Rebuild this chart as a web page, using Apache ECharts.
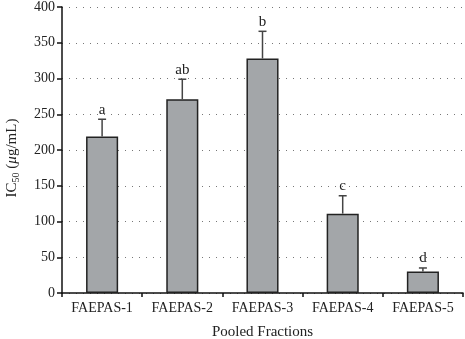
<!DOCTYPE html>
<html>
<head>
<meta charset="utf-8">
<script src="https://cdn.jsdelivr.net/npm/echarts@6/dist/echarts.min.js"></script>
<style>
  html, body { margin: 0; padding: 0; background: #fff; }
  #chart { width: 465px; height: 339px; }
</style>
</head>
<body>
<div id="chart"></div>
<script>
const categories = ['FAEPAS-1', 'FAEPAS-2', 'FAEPAS-3', 'FAEPAS-4', 'FAEPAS-5'];
const ic50 = [219, 271, 328, 111, 30];
const errUpper = [243, 299, 366, 136, 35];
const letters = ['a', 'ab', 'b', 'c', 'd'];

const font = 'Liberation Serif';
const chart = echarts.init(document.getElementById('chart'));

const errData = categories.map((c, i) => [i, ic50[i], errUpper[i], letters[i]]);

chart.setOption({
  animation: false,
  grid: { left: 62, right: 2, top: 7, bottom: 46, outerBoundsMode: 'none' },
  xAxis: {
    type: 'category',
    data: categories,
    name: 'Pooled Fractions',
    nameLocation: 'middle',
    nameGap: 32,
    nameTextStyle: { fontFamily: font, fontSize: 15, color: '#222' },
    axisLine: { lineStyle: { color: '#111', width: 1.5 } },
    axisTick: { show: true, alignWithLabel: false, length: 4, lineStyle: { color: '#111', width: 1.5 } },
    axisLabel: { fontFamily: font, fontSize: 14, color: '#222', margin: 8 }
  },
  yAxis: {
    type: 'value',
    min: 0,
    max: 400,
    interval: 50,
    name: '{a|IC}{s|50}{a| (}{i|μ}{a|g/mL)}',
    nameLocation: 'middle',
    nameGap: 41,
    nameRotate: 90,
    nameTextStyle: {
      padding: [0, 16, 0, 0],
      rich: {
        a: { fontFamily: font, fontSize: 15, color: '#222' },
        i: { fontFamily: font, fontSize: 15, fontStyle: 'italic', color: '#222' },
        s: { fontFamily: font, fontSize: 10, color: '#222', padding: [7, 0, 0, 0] }
      }
    },
    axisLine: { show: true, lineStyle: { color: '#111', width: 1.5 } },
    axisTick: { show: true, length: 5, lineStyle: { color: '#111', width: 1.5 } },
    axisLabel: { fontFamily: font, fontSize: 14, color: '#222', margin: 7 },
    splitLine: { show: true, lineStyle: { color: '#777', type: [1, 6], width: 1 } }
  },
  series: [
    {
      type: 'bar',
      data: ic50,
      barWidth: '40%',
      itemStyle: { color: '#a3a6a9', borderColor: '#222', borderWidth: 1.5 }
    },
    {
      type: 'custom',
      data: errData,
      z: 3,
      renderItem: function (params, api) {
        const x = api.coord([api.value(0), api.value(1)])[0];
        const yBase = api.coord([api.value(0), api.value(1)])[1];
        const yTop = api.coord([api.value(0), api.value(2)])[1];
        const half = 4;
        return {
          type: 'group',
          children: [
            { type: 'line', shape: { x1: x, y1: yBase, x2: x, y2: yTop }, style: { stroke: '#444', lineWidth: 1.5 } },
            { type: 'line', shape: { x1: x - half, y1: yTop, x2: x + half, y2: yTop }, style: { stroke: '#444', lineWidth: 1.5 } },
            { type: 'text', style: { text: api.value(3), x: x, y: yTop - 2, textAlign: 'center', textVerticalAlign: 'bottom', font: '15px "Liberation Serif"', fill: '#222' } }
          ]
        };
      }
    }
  ]
});
</script>
</body>
</html>
